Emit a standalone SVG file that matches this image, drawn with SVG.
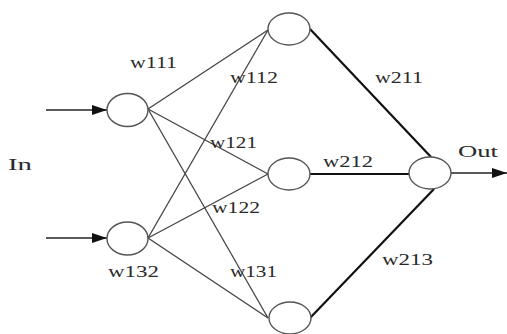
<svg xmlns="http://www.w3.org/2000/svg" width="507" height="334" viewBox="0 0 507 334">
  <style>
    .node { fill: #ffffff; stroke: #555555; stroke-width: 1.4; }
    .thin { stroke: #444444; stroke-width: 1.3; fill: none; }
    .thick { stroke: #111111; stroke-width: 2.2; fill: none; }
    .io { stroke: #222222; stroke-width: 1.4; fill: none; }
    text { font-family: "Liberation Serif", "Times New Roman", serif; font-size: 17px; fill: #2a2a2a; }
  </style>
  <defs>
    <marker id="arrow" markerWidth="15" markerHeight="10" refX="15" refY="5" orient="auto" markerUnits="userSpaceOnUse">
      <path d="M0,0 L15,5 L0,10 Z" fill="#111111"/>
    </marker>
  </defs>
  <rect width="507" height="334" fill="#ffffff"/>

  <!-- connectors -->
  <g id="connectors">
    <!-- input arrows -->
    <line class="io" x1="46" y1="110" x2="107" y2="110" marker-end="url(#arrow)"/>
    <line class="io" x1="46" y1="238" x2="107" y2="238" marker-end="url(#arrow)"/>
    <!-- input layer to hidden layer -->
    <line class="thin" x1="148" y1="109" x2="268" y2="30"/>
    <line class="thin" x1="148" y1="109" x2="268" y2="174"/>
    <line class="thin" x1="148" y1="109" x2="268" y2="318"/>
    <line class="thin" x1="148" y1="238" x2="268" y2="30"/>
    <line class="thin" x1="148" y1="238" x2="268" y2="174"/>
    <line class="thin" x1="148" y1="238" x2="268" y2="318"/>
    <!-- hidden layer to output -->
    <line class="thick" x1="310" y1="29" x2="431" y2="157"/>
    <line class="thick" x1="310" y1="174" x2="409" y2="174"/>
    <line class="thick" x1="310" y1="318" x2="434" y2="189"/>
    <!-- output arrow -->
    <line class="io" x1="451" y1="173" x2="507" y2="173" marker-end="url(#arrow)"/>
  </g>

  <g id="in1"><ellipse class="node" cx="127.5" cy="110" rx="20.5" ry="16.5"/></g>
  <g id="in2"><ellipse class="node" cx="127.5" cy="238.5" rx="20.5" ry="16.5"/></g>
  <g id="h1"><ellipse class="node" cx="289" cy="29" rx="21" ry="16"/></g>
  <g id="h2"><ellipse class="node" cx="289" cy="174" rx="21" ry="16"/></g>
  <g id="h3"><ellipse class="node" cx="290" cy="318" rx="21" ry="16"/></g>
  <g id="out"><ellipse class="node" cx="430" cy="173" rx="21" ry="16"/></g>

  <g id="labels">
    <text x="8" y="170" font-size="18" textLength="24" lengthAdjust="spacingAndGlyphs">In</text>
    <text x="458" y="157" font-size="18" textLength="40" lengthAdjust="spacingAndGlyphs">Out</text>
    <text x="130" y="68" textLength="47" lengthAdjust="spacingAndGlyphs">w111</text>
    <text x="230" y="83" textLength="48" lengthAdjust="spacingAndGlyphs">w112</text>
    <text x="210" y="148" textLength="47" lengthAdjust="spacingAndGlyphs">w121</text>
    <text x="212" y="213" textLength="48" lengthAdjust="spacingAndGlyphs">w122</text>
    <text x="108" y="277" textLength="51" lengthAdjust="spacingAndGlyphs">w132</text>
    <text x="230" y="277" textLength="47" lengthAdjust="spacingAndGlyphs">w131</text>
    <text x="375" y="83" textLength="48" lengthAdjust="spacingAndGlyphs">w211</text>
    <text x="323" y="167" textLength="50" lengthAdjust="spacingAndGlyphs">w212</text>
    <text x="382" y="265" textLength="51" lengthAdjust="spacingAndGlyphs">w213</text>
  </g>
</svg>
